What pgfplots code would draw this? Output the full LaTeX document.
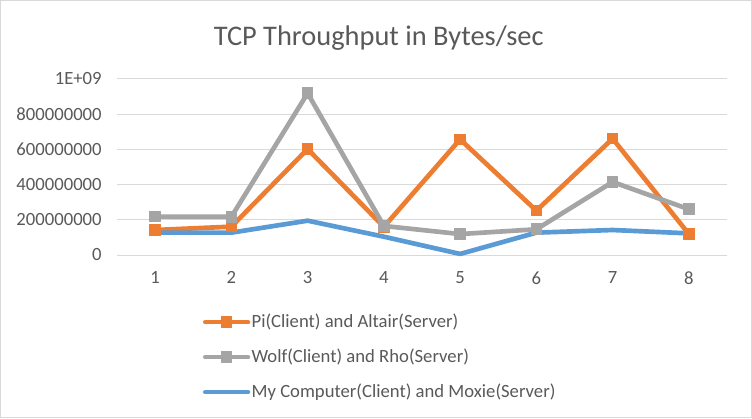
\documentclass[border=0pt]{standalone}
\usepackage{pgfplots}
\pgfplotsset{compat=1.18}
\usepackage{fontspec}
\setmainfont{Carlito}
\definecolor{cOrange}{HTML}{ED7D31}
\definecolor{cGray}{HTML}{A5A5A5}
\definecolor{cBlue}{HTML}{5B9BD5}
\definecolor{cText}{HTML}{595959}
\definecolor{cGrid}{HTML}{D9D9D9}
\begin{document}
\begin{tikzpicture}
\useasboundingbox (0,0) rectangle (564pt,313.5pt);
\draw[cGrid,line width=0.75pt] (0.375pt,0.375pt) rectangle (563.625pt,313.125pt);
\node[anchor=base,text=cText,font=\fontsize{21.3pt}{24pt}\selectfont,inner sep=0pt] at (284pt,279.2pt) {TCP Throughput in Bytes/sec};
\begin{axis}[
  at={(87.75pt,122.25pt)}, anchor=south west,
  scale only axis, width=457.5pt, height=132pt,
  xmin=0.5, xmax=8.5, ymin=0, ymax=1e9,
  xtick={1,2,3,4,5,6,7,8},
  ytick={0,2e8,4e8,6e8,8e8,1e9},
  yticklabels={0,200000000,400000000,600000000,800000000,1E+09},
  scaled y ticks=false,
  /pgf/number format/assume math mode=true,
  ymajorgrids, grid style={cGrid,line width=0.75pt},
  axis line style={draw=none},
  major tick length=0pt,
  tick label style={text=cText,font=\fontsize{14pt}{16pt}\selectfont},
  yticklabel style={xshift=-8pt},
  xticklabel style={yshift=-9pt},
  clip=false,
  legend style={at={(0.1405,-0.328)},anchor=north west,draw=none,fill=none,
    font=\fontsize{14pt}{16pt}\selectfont,text=cText,row sep=12.5pt,
    inner sep=0pt, nodes={inner sep=1pt}},
  legend cell align=left,
  legend image code/.code={\draw[mark repeat=2,mark phase=2,#1] plot coordinates {(0pt,0pt)(16pt,0pt)(32pt,0pt)};},
]
\addplot[cOrange,line width=3.5pt,line cap=round,line join=round,mark=square*,mark size=4pt,mark options={solid,line width=0.75pt,fill=cOrange,draw=cOrange}] coordinates {
(1,142e6)(2,161e6)(3,602e6)(4,160e6)(5,657e6)(6,252e6)(7,661e6)(8,119e6)};
\addlegendentry{Pi(Client) and Altair(Server)}
\addplot[cGray,line width=3.5pt,line cap=round,line join=round,mark=square*,mark size=4pt,mark options={solid,line width=0.75pt,fill=cGray,draw=cGray}] coordinates {
(1,218e6)(2,217e6)(3,919e6)(4,165e6)(5,119e6)(6,146e6)(7,415e6)(8,260e6)};
\addlegendentry{Wolf(Client) and Rho(Server)}
\addplot[cBlue,line width=3.5pt,line cap=round,line join=round] coordinates {
(1,127e6)(2,127e6)(3,195e6)(4,104e6)(5,6e6)(6,127e6)(7,142e6)(8,123e6)};
\addlegendentry{My Computer(Client) and Moxie(Server)}
\end{axis}
\end{tikzpicture}
\end{document}
